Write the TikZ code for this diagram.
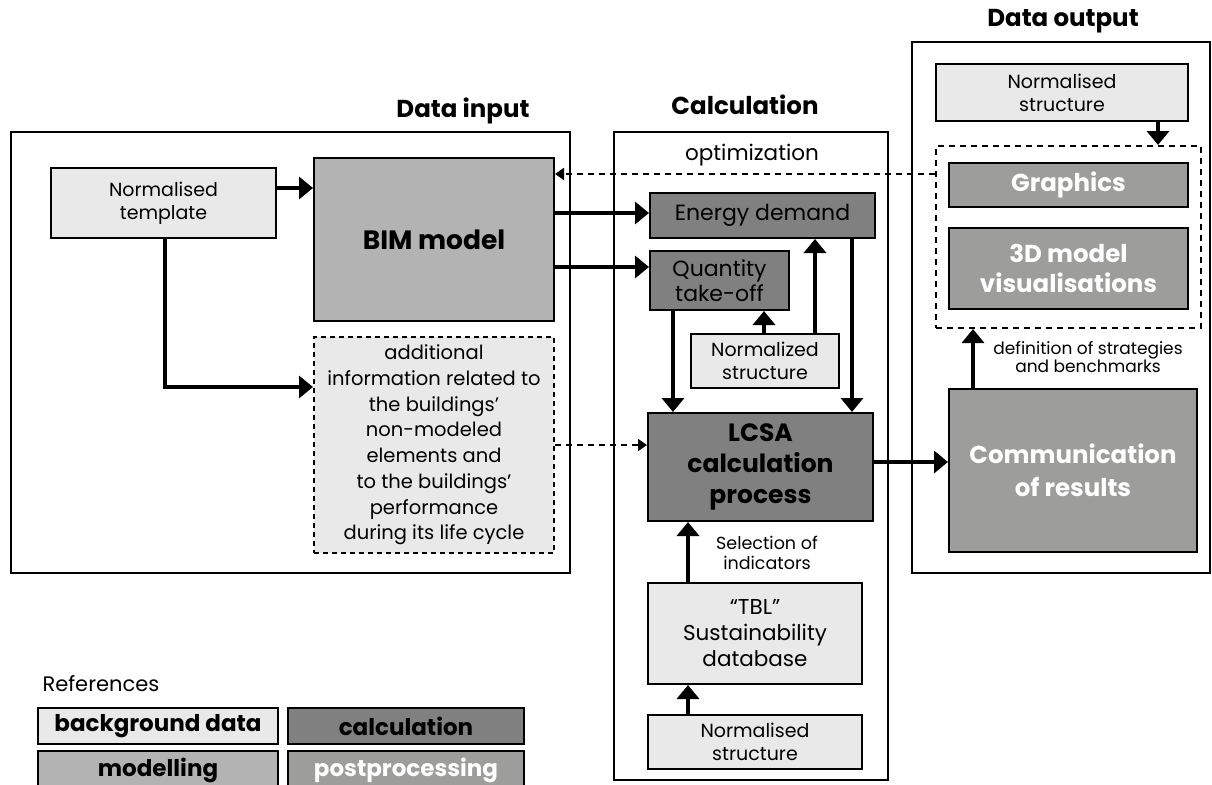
\documentclass[tikz,border=0pt]{standalone}
\usepackage{fontspec}
\setmainfont{Poppins}
\usetikzlibrary{arrows.meta}
\definecolor{bgc}{HTML}{E9E9E9}
\definecolor{modc}{HTML}{B3B3B3}
\definecolor{calcc}{HTML}{808080}
\definecolor{postc}{HTML}{9D9D9B}
\newcommand{\fs}[2]{\fontsize{#1}{#2}\selectfont}
\tikzset{
  x=1pt,y=-1pt,
  box/.style={draw=black,line width=2pt,inner sep=0pt,anchor=north west,align=center,font=\fs{19}{23}},
  bgbox/.style={box,fill=bgc},
  modbox/.style={box,fill=modc},
  calcbox/.style={box,fill=calcc},
  postbox/.style={box,fill=postc,text=white},
  frame/.style={draw=black,line width=1.8pt},
  arr/.style={line width=4pt,-{Triangle[length=14pt,width=22pt]}},
  darr/.style={line width=1.8pt,dash pattern=on 6pt off 5pt,-{Triangle[length=9pt,width=12pt]}},
  title/.style={font=\bfseries\fs{24.5}{28}},
}
\begin{document}
\begin{tikzpicture}
\useasboundingbox (0,0) rectangle (1212,784);
% frames
\draw[frame] (11,132) rectangle (570,573);
\draw[frame] (614,132) rectangle (888,780);
\draw[frame] (912,42) rectangle (1210,573);
\node[title] (tin) at (463,111) {Data input};
\node[title] (tcalc) at (745,105) {Calculation};
\node[title] (tout) at (1063,21) {Data output};
% data input
\node[bgbox,minimum width=225pt,minimum height=70pt] (tmpl) at (50,167) {Normalised\\template};
\node[modbox,minimum width=240pt,minimum height=163pt,font=\bfseries\fs{26.5}{30}] (bim) at (313,157) {BIM model};
\node[bgbox,dash pattern=on 5pt off 4pt,minimum width=240pt,minimum height=216pt,font=\fs{19.5}{25.7}] (addl) at (313,336) {additional\\information related to\\the buildings’\\non-modeled\\elements and\\to the buildings’\\performance\\during its life cycle};
% calculation
\node[font=\fs{21.5}{24}] (opt) at (752,155) {optimization};
\node[calcbox,minimum width=225pt,minimum height=45pt,font=\fs{22}{26}] (energy) at (649,192) {Energy demand};
\node[calcbox,minimum width=139pt,minimum height=59pt,font=\fs{22}{25}] (qty) at (649,250) {Quantity\\take-off};
\node[bgbox,minimum width=148pt,minimum height=54pt] (nstr) at (690,333) {Normalized\\structure};
\node[calcbox,minimum width=225pt,minimum height=108pt,font=\bfseries\fs{25}{31}] (lcsa) at (647,412) {LCSA\\calculation\\process};
\node[font=\fs{17.5}{19.5},align=center] (sel) at (767,553) {Selection of\\indicators};
\node[bgbox,minimum width=214pt,minimum height=101pt,font=\fs{21.5}{26}] (tbl) at (647,582) {“TBL”\\Sustainability\\database};
\node[bgbox,minimum width=214pt,minimum height=54pt] (nbot) at (647,714) {Normalised\\structure};
% data output
\node[bgbox,minimum width=252pt,minimum height=57pt] (nout) at (935,63) {Normalised\\structure};
\node[box,dash pattern=on 6pt off 5pt,minimum width=265pt,minimum height=182pt] (dbox) at (935,145) {};
\node[postbox,minimum width=239pt,minimum height=44pt,font=\bfseries\fs{24.5}{28}] (gfx) at (948,162) {Graphics};
\node[postbox,minimum width=239pt,minimum height=81pt,font=\bfseries\fs{24.5}{30}] (vis) at (948,227) {3D model\\visualisations};
\node[postbox,minimum width=248pt,minimum height=163pt,font=\bfseries\fs{24.5}{33}] (comm) at (948,388) {Communication\\of results};
\node[font=\fs{17}{18.5},align=center] (defs) at (1088,357) {definition of strategies\\and benchmarks};
% legend
\node[anchor=west,font=\fs{21}{24}] (refs) at (39,684) {References};
\node[bgbox,minimum width=240pt,minimum height=36pt,font=\bfseries\fs{23}{26}] (lbg) at (37,707) {background data};
\node[calcbox,minimum width=236pt,minimum height=36pt,font=\bfseries\fs{23}{26}] (lcalc) at (287,707) {calculation};
\node[modbox,minimum width=240pt,minimum height=38pt,font=\bfseries\fs{23}{26}] (lmod) at (37,750) {modelling};
\node[postbox,minimum width=236pt,minimum height=38pt,font=\bfseries\fs{23}{26}] (lpost) at (287,750) {postprocessing};
% connectors
\draw[arr] (tmpl.east |- 0,188) -- (bim.west |- 0,188);
\draw[arr] (tmpl.south -| 165,0) -- (165,387) -- (addl.west |- 0,387);
\draw[arr] (bim.east |- 0,213) -- (energy.west |- 0,213);
\draw[arr] (bim.east |- 0,267) -- (qty.west |- 0,267);
\draw[arr] (qty.south -| 673,0) -- (lcsa.north -| 673,0);
\draw[arr] (energy.south -| 852,0) -- (lcsa.north -| 852,0);
\draw[arr] (nstr.north -| 764,0) -- (qty.south -| 764,0);
\draw[arr] (nstr.north -| 815,0) -- (energy.south -| 815,0);
\draw[darr] (addl.east |- 0,445) -- (lcsa.west |- 0,445);
\draw[arr] (lcsa.east |- 0,462) -- (comm.west |- 0,462);
\draw[arr] (tbl.north -| 688,0) -- (lcsa.south -| 688,0);
\draw[arr] (nbot.north -| 688,0) -- (tbl.south -| 688,0);
\draw[arr] (nout.south -| 1158,0) -- (dbox.north -| 1158,0);
\draw[arr] (comm.north -| 973,0) -- (dbox.south -| 973,0);
\draw[darr] (dbox.west |- 0,174) -- (bim.east |- 0,174);
\end{tikzpicture}
\end{document}
